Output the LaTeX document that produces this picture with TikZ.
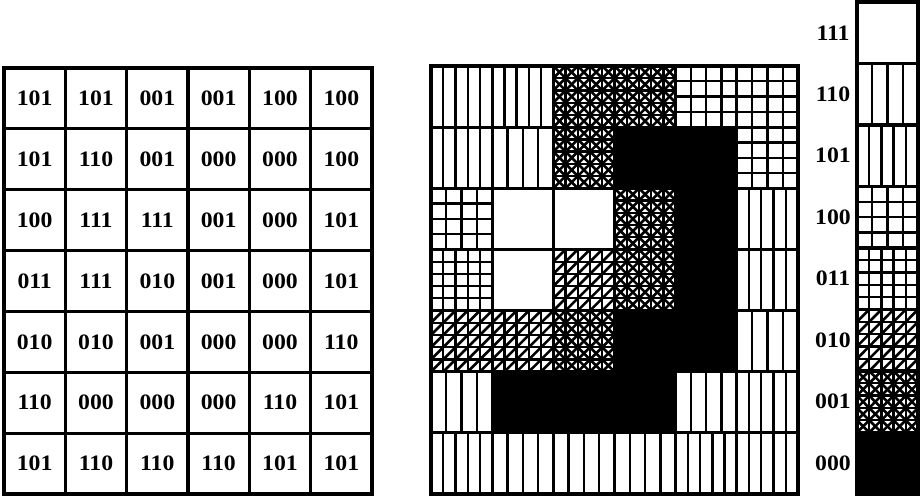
\documentclass[tikz,border=0pt]{standalone}
\usepackage{fontspec}
\setmainfont[FakeStretch=1.08]{Liberation Serif}
\usepackage{tikz}

%% fill patterns, one per 3-bit code, drawn in a unit cell (y pointing down)
\expandafter\newcommand\csname pat111\endcsname{}
\expandafter\newcommand\csname pat110\endcsname{%
  \foreach \i in {1,2,3} \draw[hatchline] (\i/4,0) -- (\i/4,1);}
\expandafter\newcommand\csname pat101\endcsname{%
  \foreach \i in {1,...,4} \draw[hatchline] (\i/5,0) -- (\i/5,1);}
\expandafter\newcommand\csname pat100\endcsname{%
  \foreach \i in {1,2,3} {\draw[hatchline] (\i/4,0) -- (\i/4,1);
                          \draw[hatchline] (0,\i/4) -- (1,\i/4);}}
\expandafter\newcommand\csname pat011\endcsname{%
  \foreach \i in {1,...,4} {\draw[hatchline] (\i/5,0) -- (\i/5,1);
                            \draw[hatchline] (0,\i/5) -- (1,\i/5);}}
\expandafter\newcommand\csname pat010\endcsname{%
  \foreach \i in {1,...,4} {\draw[hatchline] (\i/5,0) -- (\i/5,1);
                            \draw[hatchline] (0,\i/5) -- (1,\i/5);}
  \foreach \k in {1,...,9} \draw[diagline] (\k/5,0) -- (0,\k/5);}
\expandafter\newcommand\csname pat001\endcsname{%
  \foreach \i in {1,...,4} {\draw[hatchline] (\i/5,0) -- (\i/5,1);
                            \draw[hatchline] (0,\i/5) -- (1,\i/5);}
  \foreach \k in {1,...,9} {\draw[diagline] (\k/5,0) -- (0,\k/5);
                            \draw[diagline] (1-\k/5,0) -- (1,\k/5);}}
\expandafter\newcommand\csname pat000\endcsname{\fill (0,0) rectangle (1,1);}

\begin{document}
\begin{tikzpicture}[x=1pt, y=-1pt,
    cellline/.style={line width=3.2pt},
    frameline/.style={line width=3.8pt},
    hatchline/.style={line width=2.3pt},
    diagline/.style={line width=2.6pt},
    codelabel/.style={font=\bfseries\fontsize{22}{22}\selectfont, inner sep=0pt}]
  \useasboundingbox (0,0) rectangle (920,498);

  %% Left grid: the 3-bit codes as numbers
  \foreach \row/\codes in {1/{101,101,001,001,100,100},
      2/{101,110,001,000,000,100},
      3/{100,111,111,001,000,101},
      4/{011,111,010,001,000,101},
      5/{010,010,001,000,000,110},
      6/{110,000,000,000,110,101},
      7/{101,110,110,110,101,101}} {
    \foreach \code [count=\col] in \codes {
      \node[codelabel] (num-\row-\col)
        at ({4+(\col-0.5)*61.33},{68+(\row-0.5)*60.86}) {\code};
      %% Middle grid: the same codes as fill patterns
      \begin{scope}[shift={({431+(\col-1)*61.17},{66+(\row-1)*61.14})},
                    xscale=61.17, yscale=61.14]
        \clip (0,0) rectangle (1,1);
        \csname pat\code\endcsname
      \end{scope}
    }
  }
  \foreach \i in {1,...,5} \draw[cellline] ({4+\i*61.33},68) -- ({4+\i*61.33},494);
  \foreach \i in {1,...,6} \draw[cellline] (4,{68+\i*60.86}) -- (372,{68+\i*60.86});
  \draw[frameline] (4,68) rectangle (372,494);
  \foreach \i in {1,...,5} \draw[cellline] ({431+\i*61.17},66) -- ({431+\i*61.17},494);
  \foreach \i in {1,...,6} \draw[cellline] (431,{66+\i*61.14}) -- (798,{66+\i*61.14});
  \draw[frameline] (431,66) rectangle (798,494);

  %% Key: code and its pattern
  \foreach \code [count=\row] in {111,110,101,100,011,010,001,000} {
    \begin{scope}[shift={(857,{2+(\row-1)*61.5})}, xscale=61, yscale=61.5]
      \clip (0,0) rectangle (1,1);
      \csname pat\code\endcsname
    \end{scope}
    \node[codelabel] (key-\code) at (833,{2+(\row-0.5)*61.5}) {\code};
  }
  \foreach \i in {1,...,7} \draw[cellline] (857,{2+\i*61.5}) -- (918,{2+\i*61.5});
  \draw[frameline] (857,2) rectangle (918,494);
\end{tikzpicture}
\end{document}
